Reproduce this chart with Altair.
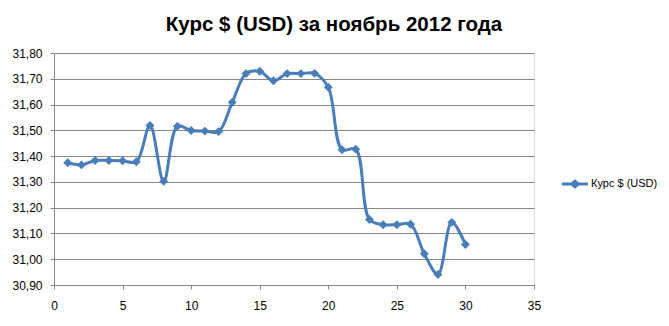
import altair as alt
import pandas as pd

days = list(range(1, 31))
rates = [31.374, 31.366, 31.383, 31.383, 31.382, 31.378, 31.519, 31.302, 31.516, 31.499,
         31.497, 31.495, 31.609, 31.720, 31.729, 31.692, 31.720, 31.720, 31.721, 31.667,
         31.425, 31.427, 31.154, 31.134, 31.134, 31.136, 31.021, 30.941, 31.143, 31.057]
series_name = "Курс $ (USD)"
title_text = "Курс $ (USD) за ноябрь 2012 года"
y_ticks = [30.9, 31.0, 31.1, 31.2, 31.3, 31.4, 31.5, 31.6, 31.7, 31.8]
x_ticks = [0, 5, 10, 15, 20, 25, 30, 35]

df = pd.DataFrame({"day": days, "rate": rates, "series": [series_name] * len(days)})

BLUE = "#4A7EBB"
GRID = "#868686"
FONT = "Liberation Sans"

x = alt.X("day:Q", scale=alt.Scale(domain=[0, 35], nice=False, zero=False),
          axis=alt.Axis(values=x_ticks, title=None, grid=False, tickSize=4, labelPadding=11,
                        domainColor=GRID, tickColor=GRID, labelFont=FONT, labelFontSize=12,
                        labelColor="#000000", labelFlush=False))
y = alt.Y("rate:Q", scale=alt.Scale(domain=[30.9, 31.8], nice=False, zero=False),
          axis=alt.Axis(values=y_ticks, title=None, grid=True, gridColor=GRID, gridOpacity=1,
                        tickSize=4, labelPadding=8, domainColor=GRID, tickColor=GRID,
                        labelFont=FONT, labelFontSize=12, labelColor="#000000",
                        labelExpr="replace(format(datum.value, '.2f'), '.', ',')"))

line = alt.Chart(df).mark_line(interpolate="catmull-rom", strokeWidth=3, color=BLUE).encode(x=x, y=y)

legend_path = ("M-1,-0.11 L-0.3,-0.11 L0,-0.36 L0.3,-0.11 L1,-0.11 L1,0.11 L0.3,0.11 "
               "L0,0.36 L-0.3,0.11 L-1,0.11 Z")

points = alt.Chart(df).mark_point(shape="diamond", filled=True, size=80, opacity=1).encode(
    x=x, y=y,
    color=alt.Color("series:N", scale=alt.Scale(range=[BLUE]),
                    legend=alt.Legend(title=None, orient="none", legendX=508, legendY=118,
                                      symbolType=legend_path, symbolSize=676,
                                      symbolStrokeWidth=0, labelFont=FONT, labelFontSize=11,
                                      labelColor="#000000", labelOffset=3, padding=0))
)

chart = (line + points).properties(
    width=480, height=232,
    autosize=alt.AutoSizeParams(type="none"),
    padding={"left": 54, "top": 53, "right": 135, "bottom": 41},
    title=alt.Title(title_text, font=FONT, fontSize=20.5, fontWeight="bold", color="#000000",
                    anchor="middle", frame="group", dx=40, offset=12),
).configure_view(stroke=None).configure(background="white")

chart.save("out.html", embed_options={"renderer": "svg", "actions": False})
